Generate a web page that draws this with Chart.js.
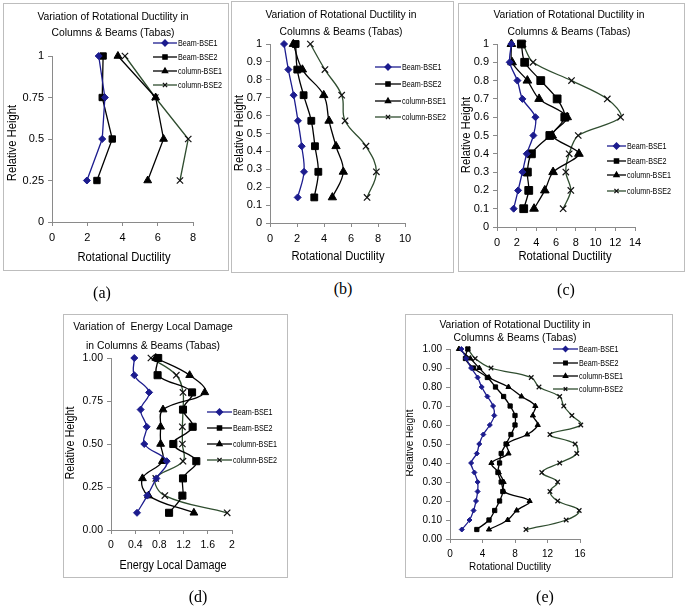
<!DOCTYPE html>
<html><head><meta charset="utf-8">
<script src="https://cdn.jsdelivr.net/npm/chart.js@4.4.1/dist/chart.umd.min.js"></script>
<style>
body{margin:0;background:#fff;width:685px;height:609px;position:relative;overflow:hidden;}
.box{position:absolute;border:1px solid #bdbdbd;box-sizing:border-box;pointer-events:none;}
canvas{position:absolute;}
.lbl{position:absolute;font-family:'Liberation Serif','Times New Roman',serif;font-size:16px;color:#000;transform:translate(-50%,-50%);white-space:nowrap;}
</style></head><body>
<script>
// ---------- DATA ----------
const seriesNames = ['Beam-BSE1','Beam-BSE2','column-BSE1','column-BSE2'];

// (a)
const heightsA = [1, 0.75, 0.5, 0.25];
const beamBSE1_A = [2.65, 3.0, 2.85, 1.98];
const beamBSE2_A = [2.9, 2.85, 3.42, 2.55];
const colBSE1_A  = [3.74, 5.88, 6.33, 5.43];
const colBSE2_A  = [4.14, 5.86, 7.73, 7.26];

// (b)
const heightsB = [1, 0.857, 0.714, 0.571, 0.429, 0.286, 0.143];
const beamBSE1_B = [1.04, 1.36, 1.75, 2.07, 2.35, 2.52, 2.05];
const beamBSE2_B = [1.9, 2.02, 2.49, 3.06, 3.33, 3.58, 3.28];
const colBSE1_B  = [1.73, 2.4, 3.98, 4.37, 4.89, 5.43, 4.62];
const colBSE2_B  = [2.99, 4.07, 5.31, 5.56, 7.11, 7.88, 7.19];

// (c)
const heightsC = [1, 0.9, 0.8, 0.7, 0.6, 0.5, 0.4, 0.3, 0.2, 0.1];
const beamBSE1_C = [1.46, 1.29, 2.07, 2.58, 3.9, 3.69, 3.02, 2.58, 2.14, 1.69];
const beamBSE2_C = [2.47, 2.81, 4.44, 6.1, 6.88, 5.36, 3.49, 3.08, 3.22, 2.71];
const colBSE1_C  = [1.46, 1.53, 3.08, 4.27, 7.12, 5.6, 8.31, 5.69, 4.85, 3.76];
const colBSE2_C  = [2.64, 3.66, 7.56, 11.19, 12.54, 8.24, 7.32, 6.98, 7.49, 6.71];

// (d)
const heightsD = [1, 0.9, 0.8, 0.7, 0.6, 0.5, 0.4, 0.3, 0.2, 0.1];
const beamBSE1_D = [0.385, 0.385, 0.63, 0.49, 0.59, 0.55, 0.92, 0.75, 0.6, 0.43];
const beamBSE2_D = [0.78, 0.77, 1.34, 1.19, 1.35, 1.03, 1.41, 1.19, 1.18, 0.96];
const colBSE1_D  = [0.74, 1.3, 1.55, 0.86, 0.82, 0.82, 0.85, 0.52, 0.62, 1.37];
const colBSE2_D  = [0.66, 1.08, 1.19, 1.19, 1.18, 1.18, 1.19, 0.74, 0.89, 1.92];

// (e)
const heightsE = [1.00,0.95,0.90,0.85,0.80,0.75,0.70,0.65,0.60,0.55,0.50,0.45,0.40,0.35,0.30,0.25,0.20,0.15,0.10,0.05];
const beamBSE1_E = [1.4, 2.0, 2.6, 3.4, 3.9, 4.6, 5.3, 5.45, 4.9, 4.1, 3.6, 3.3, 2.6, 3.0, 3.4, 3.4, 3.2, 2.9, 2.4, 1.45];
const beamBSE2_E = [2.2, 1.9, 2.9, 4.6, 5.6, 6.6, 7.4, 8.0, 8.0, 7.5, 6.9, 6.3, 6.1, 5.9, 6.3, 6.5, 6.1, 5.5, 4.8, 3.3];
const colBSE1_E  = [1.1, 2.5, 3.6, 4.8, 7.2, 8.8, 10.5, 10.2, 10.8, 9.5, 7.0, 7.2, 5.1, 6.0, 6.6, 6.6, 9.8, 8.2, 7.1, 4.8];
const colBSE2_E  = [2.2, 3.1, 5.05, 10.0, 10.95, 13.5, 14.0, 15.0, 16.1, 12.3, 15.4, 15.6, 13.5, 11.3, 13.25, 12.3, 13.25, 15.9, 14.3, 9.35];

// tick labels / axis settings
const xTicksA = {min:0, max:8, step:2};
const xTicksB = {min:0, max:10, step:2};
const xTicksC = {min:0, max:14, step:2};
const xTicksD = {min:0, max:2, step:0.4};
const xTicksE = {min:0, max:16, step:4};
const yTicksA = {min:0, max:1, step:0.25};
const yTicksB = {min:0, max:1, step:0.1};
const yTicksC = {min:0, max:1, step:0.1};
const yTicksD = {min:0, max:1, step:0.25};
const yTicksE = {min:0, max:1, step:0.1};

const titleRD = ['Variation of Rotational Ductility in', 'Columns & Beams (Tabas)'];
const titleED = ['Variation of  Energy Local Damage', 'in Columns & Beams (Tabas)'];
const xTitleRD = 'Rotational Ductility';
const xTitleED = 'Energy Local Damage';
const yTitle = 'Relative Height';
const panelLabels = ['(a)','(b)','(c)','(d)','(e)'];

// ---------- STYLE ----------
const FONT = "'Liberation Sans',Arial,sans-serif";
const NAVY = '#1c1c8e', BLACK = '#000000', GREEN = '#2f4d2f';
const styles = [
  {line:NAVY,  mark:NAVY,  ps:'rectRot'},
  {line:BLACK, mark:BLACK, ps:'rect'},
  {line:BLACK, mark:BLACK, ps:'triangle'},
  {line:GREEN, mark:'#111', ps:'crossRot'}
];

function squeezeText(ctx, text, x, y, sx){
  ctx.save(); ctx.translate(x, y); ctx.scale(sx, 1); ctx.fillText(text, 0, 0); ctx.restore();
}

const textPlugin = {
  id:'panelText',
  afterDraw(chart, args, o){
    const ctx = chart.ctx;
    const ox = o.origin[0], oy = o.origin[1];
    ctx.save();
    ctx.fillStyle = '#000';
    ctx.textAlign = 'center'; ctx.textBaseline = 'middle';
    ctx.font = o.titleSize + 'px ' + FONT;
    o.title.forEach((t,i)=>squeezeText(ctx, t, o.titleX - ox, o.titleY[i] - oy, 0.9));
    ctx.font = o.axisSize + 'px ' + FONT;
    squeezeText(ctx, o.xTitle, o.xTitlePos[0]-ox, o.xTitlePos[1]-oy, 0.9);
    ctx.save();
    ctx.translate(o.yTitlePos[0]-ox, o.yTitlePos[1]-oy);
    ctx.rotate(-Math.PI/2);
    ctx.scale(0.9, 1);
    ctx.fillText(o.yTitle, 0, 0);
    ctx.restore();
    // legend
    ctx.font = o.legSize + 'px ' + FONT;
    ctx.textAlign = 'left';
    chart.data.datasets.forEach((ds,i)=>{
      const y = o.legY[i]-oy, x1 = o.legX[0]-ox, x2 = o.legX[1]-ox;
      ctx.strokeStyle = ds.borderColor; ctx.lineWidth = 1.3;
      ctx.beginPath(); ctx.moveTo(x1,y); ctx.lineTo(x2,y); ctx.stroke();
      ctx.fillStyle = ds.pointBackgroundColor; ctx.strokeStyle = ds.pointBorderColor;
      Chart.helpers.drawPoint(ctx, {pointStyle: ds.pointStyle, radius: o.legRadius, borderWidth: 1, rotation:0}, (x1+x2)/2, y);
      ctx.fillStyle = '#000';
      squeezeText(ctx, ds.label, x2 + 1, y + 0.5, 0.8);
    });
    ctx.restore();
  }
};

function fmtFactory(dec){ return v => dec < 0 ? String(parseFloat(Number(v).toFixed(3))) : Number(v).toFixed(dec); }

function makePanel(p){
  const W = p.box[2]-p.box[0], H = p.box[3]-p.box[1];
  const border = document.createElement('div');
  border.className = 'box';
  Object.assign(border.style, {left:p.box[0]+'px', top:p.box[1]+'px', width:W+'px', height:H+'px'});
  const cv = document.createElement('canvas');
  cv.width = W; cv.height = H;
  Object.assign(cv.style, {left:p.box[0]+'px', top:p.box[1]+'px', width:W+'px', height:H+'px'});
  document.body.appendChild(cv);
  document.body.appendChild(border);
  const L = p.plot[0]-p.box[0], T = p.plot[1]-p.box[1], R = p.plot[2]-p.box[0], B = p.plot[3]-p.box[1];
  const yW = 30, xH = 20;
  const datasets = p.series.map((xs,i)=>({
    label: seriesNames[i],
    data: xs.map((x,k)=>({x:x, y:p.heights[k]})),
    showLine:true, fill:false, clip:false,
    borderColor: styles[i].line, borderWidth: 1.3,
    pointStyle: styles[i].ps,
    pointRadius: p.radii[i], pointHoverRadius: p.radii[i],
    pointBackgroundColor: styles[i].mark, pointBorderColor: styles[i].mark,
    pointBorderWidth: styles[i].ps==='crossRot' ? 1.2 : 1,
    tension: p.tension
  }));
  const axisCommon = (t, dec, fsz, pad) => ({
    type:'linear', min:t.min, max:t.max,
    ticks:{stepSize:t.step, color:'#000', font:{family:FONT, size:fsz}, padding:pad, callback: fmtFactory(dec), autoSkip:false, maxRotation:0},
    grid:{display:true, drawOnChartArea:false, drawTicks:true, tickLength:4, color:'#8a8a8a', lineWidth:1},
    border:{display:true, color:'#8a8a8a', width:1}
  });
  const xs = axisCommon(p.xt, p.xDec, p.tickSize, p.xPad);
  xs.afterFit = s => { s.height = xH; };
  const ys = axisCommon(p.yt, p.yDec, p.tickSize, 4);
  ys.afterFit = s => { s.width = yW; };
  new Chart(cv, {
    type:'scatter',
    data:{datasets},
    options:{
      responsive:false, animation:false, devicePixelRatio:1,
      layout:{autoPadding:false, padding:{left:L-yW, top:T, right:W-R, bottom:H-B-xH}},
      elements:{line:{capBezierPoints:false}},
      scales:{x:xs, y:ys},
      plugins:{
        legend:{display:false}, tooltip:{enabled:false}, title:{display:false},
        panelText:{
          origin:[p.box[0],p.box[1]],
          title:p.title, titleX:p.titleX, titleY:p.titleY, titleSize:p.titleSize,
          xTitle:p.xTitle, xTitlePos:p.xTitlePos, yTitle:yTitle, yTitlePos:p.yTitlePos, axisSize:p.axisSize,
          legX:p.legX, legY:p.legY, legSize:p.legSize, legRadius:p.legRadius
        }
      }
    },
    plugins:[textPlugin]
  });
}

makePanel({
  box:[3,3,229,271], plot:[52,56,193,222],
  heights:heightsA, series:[beamBSE1_A,beamBSE2_A,colBSE1_A,colBSE2_A],
  xt:xTicksA, yt:yTicksA, xDec:-1, yDec:-1, tickSize:11, xPad:5,
  radii:[3.5,4.5,4.5,4.5], tension:0,
  title:titleRD, titleX:113, titleY:[17,33], titleSize:11.5,
  xTitle:xTitleRD, xTitlePos:[124,258], yTitlePos:[13,143], axisSize:12.5,
  legX:[153,177], legY:[43,57,71,85], legSize:9, legRadius:3
});
makePanel({
  box:[231,1,454,273], plot:[270,44,405,223],
  heights:heightsB, series:[beamBSE1_B,beamBSE2_B,colBSE1_B,colBSE2_B],
  xt:xTicksB, yt:yTicksB, xDec:-1, yDec:-1, tickSize:11, xPad:5,
  radii:[3.5,4.8,4.8,4.5], tension:0.4,
  title:titleRD, titleX:341, titleY:[15,32], titleSize:11.5,
  xTitle:xTitleRD, xTitlePos:[338,257], yTitlePos:[240,133], axisSize:12.5,
  legX:[375,401], legY:[67,84,101,117], legSize:9, legRadius:3
});
makePanel({
  box:[458,3,685,272], plot:[497,44,635,227],
  heights:heightsC, series:[beamBSE1_C,beamBSE2_C,colBSE1_C,colBSE2_C],
  xt:xTicksC, yt:yTicksC, xDec:-1, yDec:-1, tickSize:11, xPad:5,
  radii:[3.5,5.5,5,4.5], tension:0.3,
  title:titleRD, titleX:569, titleY:[15,32], titleSize:11.5,
  xTitle:xTitleRD, xTitlePos:[565,257], yTitlePos:[467,135], axisSize:12.5,
  legX:[607,626], legY:[146,161,175,191], legSize:9, legRadius:3
});
makePanel({
  box:[63,314,288,578], plot:[111,358,232,530],
  heights:heightsD, series:[beamBSE1_D,beamBSE2_D,colBSE1_D,colBSE2_D],
  xt:xTicksD, yt:yTicksD, xDec:-1, yDec:2, tickSize:10.5, xPad:5,
  radii:[3.5,5,4.5,4.5], tension:0.4,
  title:titleED, titleX:153, titleY:[327,346], titleSize:11.5,
  xTitle:xTitleED, xTitlePos:[173,566], yTitlePos:[71,443], axisSize:12,
  legX:[207,232], legY:[412,428,444,460], legSize:9, legRadius:3
});
makePanel({
  box:[405,314,673,578], plot:[450,349,580,539],
  heights:heightsE, series:[beamBSE1_E,beamBSE2_E,colBSE1_E,colBSE2_E],
  xt:xTicksE, yt:yTicksE, xDec:-1, yDec:2, tickSize:10, xPad:5,
  radii:[2.5,3,3,3.2], tension:0.4,
  title:titleRD, titleX:515, titleY:[325,338], titleSize:11.5,
  xTitle:xTitleRD, xTitlePos:[510,567], yTitlePos:[410,443], axisSize:11,
  legX:[553,578], legY:[349,363,376,389], legSize:9, legRadius:2.5
});

const lblPos = [[102,293],[343,289],[566,290],[198,597],[545,597]];
panelLabels.forEach((t,i)=>{
  const d = document.createElement('div'); d.className='lbl'; d.textContent=t;
  d.style.left = lblPos[i][0]+'px'; d.style.top = lblPos[i][1]+'px';
  document.body.appendChild(d);
});
</script>
</body></html>
